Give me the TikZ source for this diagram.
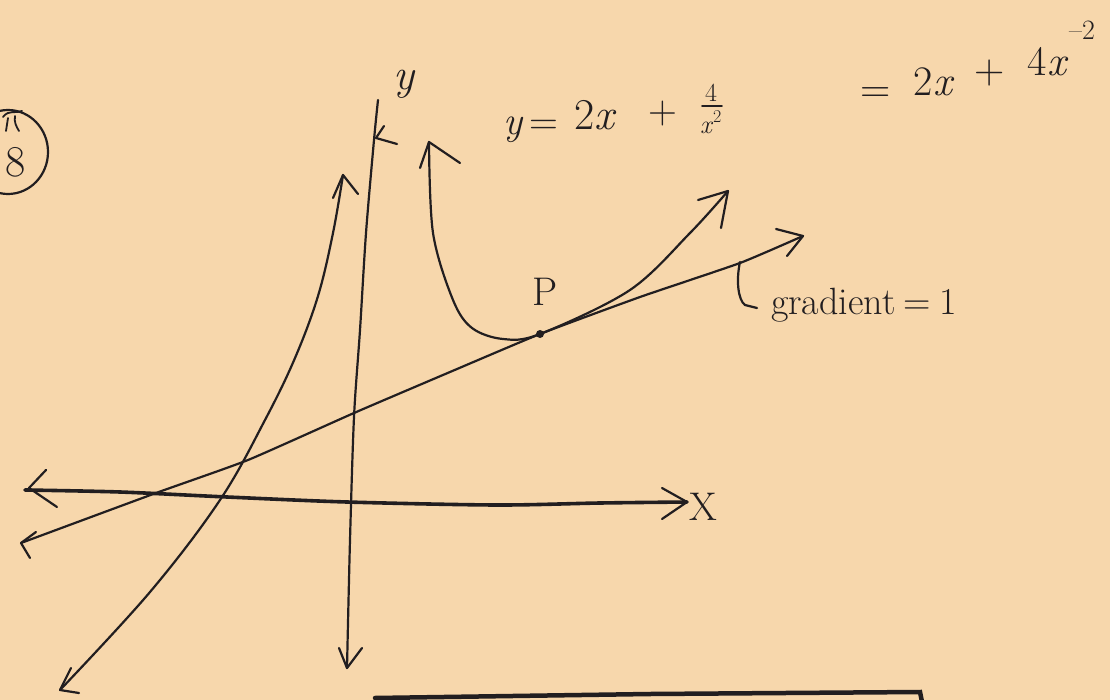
\documentclass[tikz,border=0pt]{standalone}
\definecolor{paper}{RGB}{247,215,172}
\definecolor{ink}{RGB}{34,30,32}
\newcommand\fsz[1]{\fontsize{#1}{#1}\selectfont}
\tikzset{
  pen/.style={draw=ink, line width=2.2pt, line cap=round, line join=round},
  thickpen/.style={draw=ink, line width=3.6pt, line cap=round, line join=round},
  barb/.style={draw=ink, line width=2.2pt, line cap=round, line join=round},
  hand/.style={text=ink, inner sep=0pt, outer sep=0pt}
}
\begin{document}
\begin{tikzpicture}[x=1pt,y=-1pt]
\fill[paper] (0,0) rectangle (1110,700);
\useasboundingbox (0,0) rectangle (1110,700);

% question number
\draw[pen] (8,152) ellipse [x radius=40, y radius=42];
\node[hand, font=\fsz{44}] (qnum) at (16,162) {8};
\draw[pen, line width=1.8pt] (6,131) -- (8,118) (3,117) .. controls (9,109) and (16,114) .. (22,111) (15,116) .. controls (14,122) and (16,126) .. (19,131);

% coordinates
\coordinate (P) at (540,334);
\coordinate (ytop) at (378,100);
\coordinate (ybot) at (347,668);
\coordinate (xl) at (25,490);
\coordinate (xr) at (687,502);

% x-axis
\draw[thickpen] plot[smooth, tension=0.5] coordinates {(xl) (120,492) (227,497) (347,502) (496,505) (600,503) (xr)};
\draw[barb] (46,470) -- (29,488) -- (57,507);
\draw[barb] (662,488) -- (xr) -- (662,519);
\node[hand, font=\fsz{40}] (xlab) at (703,507) {X};

% y-axis
\draw[pen] plot[smooth, tension=0.5] coordinates {(ytop) (374,140) (366,233) (360,330) (354,417) (350,540) (ybot)};
\draw[barb] (339,648) -- (ybot) -- (362,648);
\draw[barb] (384,126) -- (376,138) -- (397,144);
\node[hand, font=\fsz{44}\itshape] (ylab) at (404,84) {y};

% left branch
\draw[pen] plot[smooth, tension=0.6] coordinates {(60,690) (150,592) (220,500) (265,420) (295,358) (318,296) (333,233) (343,175)};
\draw[barb] (333,198) -- (343,175) -- (358,194);
\draw[barb] (71,668) -- (60,690) -- (79,693);

% right branch
\draw[pen] plot[smooth, tension=0.55] coordinates {(429,142) (433,233) (453,300) (472,328) (503,339) (P) (630,290) (690,233) (728,191)};
\draw[barb] (420,168) -- (429,142) -- (460,163);
\draw[barb] (698,200) -- (728,191) -- (721,228);

% tangent line
\draw[pen] plot[smooth, tension=0.3] coordinates {(21,543) (156,493) (248,460) (354,413) (450,372) (P) (640,297) (740,263) (803,236)};
\draw[barb] (776,229) -- (803,236) -- (787,256);
\draw[barb] (36,532) -- (21,543) -- (30,558);
\fill[ink] (P) circle (4pt);

% labels
\node[hand, font=\fsz{40}] (plab) at (545,292) {P};
\draw[pen] (740,262) .. controls (736,280) and (738,300) .. (745,305) -- (757,308);
\node[hand, font=\fsz{38}, anchor=base west] (grad) at (771,315) {gradient\hspace{0.2em}=\hspace{0.25em}1};

% equation
\node[hand, font=\fsz{40}, anchor=base west] (eqy) at (503,135) {\textit{y}\,=};
\node[hand, font=\fsz{44}, anchor=base west] (eqtwox) at (574,130) {2\textit{x}};
\node[hand, font=\fsz{40}] (eqplus) at (663,114) {+};
\node[hand, font=\fsz{26}] (fnum) at (711,93) {4};
\draw[pen, line width=1.6pt] (702,106) -- (722,106);
\node[hand, font=\fsz{26}, anchor=base west] (fden) at (700,134) {\textit{x}\raisebox{0.45em}{\fsz{18}2}};

% rewritten form, rising to the right
\node[hand, font=\fsz{42}] (eqeq) at (876,95) {=};
\node[hand, font=\fsz{42}] (eqb) at (934,82) {2\textit{x}};
\node[hand, font=\fsz{42}] (eqc) at (990,73) {+};
\node[hand, font=\fsz{42}] (eqd) at (1048,62) {4\textit{x}};
\node[hand, font=\fsz{28}] (eqexp) at (1082,30) {–2};

% answer box (top edge)
\draw[draw=ink, line width=4.5pt, line cap=round] (375,698) -- (650,694) -- (920,692) -- (922,702);
\end{tikzpicture}
\end{document}
